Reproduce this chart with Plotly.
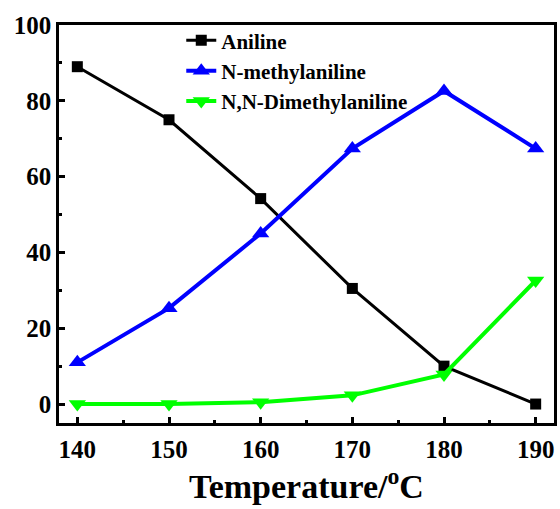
import plotly.graph_objects as go

temperature = [140, 150, 160, 170, 180, 190]
aniline = [89.0, 75.0, 54.2, 30.5, 10.0, 0.0]
n_methyl = [11.0, 25.3, 45.0, 67.4, 82.6, 67.4]
nn_dimethyl = [0.0, 0.0, 0.5, 2.3, 7.8, 32.6]

x_ticks = [140, 150, 160, 170, 180, 190]
y_ticks = [0, 20, 40, 60, 80, 100]

FONT = "Liberation Serif"

fig = go.Figure()
fig.add_trace(go.Scatter(
    x=temperature, y=aniline, name="Aniline", mode="lines+markers",
    line=dict(color="#000000", width=3),
    marker=dict(symbol="square", size=11, color="#000000"),
))
fig.add_trace(go.Scatter(
    x=temperature, y=n_methyl, name="N-methylaniline", mode="lines+markers",
    line=dict(color="#0000FF", width=4),
    marker=dict(symbol="triangle-up", size=15, color="#0000FF"),
))
fig.add_trace(go.Scatter(
    x=temperature, y=nn_dimethyl, name="N,N-Dimethylaniline", mode="lines+markers",
    line=dict(color="#00FF00", width=4),
    marker=dict(symbol="triangle-down", size=15, color="#00FF00"),
))

axis_common = dict(
    showline=True, linecolor="#000000", linewidth=2.5, mirror=True,
    ticks="inside", ticklen=6, tickwidth=2.5, tickcolor="#000000",
    showgrid=False, zeroline=False,
    tickfont=dict(family=FONT, size=25, color="#000000", weight="bold"),
)

fig.update_xaxes(
    range=[138, 192], tickvals=x_ticks,
    minor=dict(ticks="inside", ticklen=3, tickwidth=2.5, tickcolor="#000000", dtick=5, tick0=140),
    title=dict(text="Temperature/<sup>o</sup>C", standoff=12,
               font=dict(family=FONT, size=34, color="#000000", weight="bold")),
    ticklabelstandoff=2,
    **axis_common,
)
fig.update_yaxes(
    range=[-5, 100], tickvals=y_ticks,
    minor=dict(ticks="inside", ticklen=3, tickwidth=2.5, tickcolor="#000000", dtick=10, tick0=0),
    **axis_common,
)

fig.update_layout(
    width=560, height=509,
    margin=dict(l=59, r=3, t=25, b=86),
    paper_bgcolor="#FFFFFF", plot_bgcolor="#FFFFFF",
    showlegend=True,
    legend=dict(
        x=0.247, y=1.012, xanchor="left", yanchor="top",
        bgcolor="rgba(0,0,0,0)", borderwidth=0,
        font=dict(family=FONT, size=21, color="#000000", weight="bold"),
        tracegroupgap=0,
    ),
)

fig.write_html("out.html")
